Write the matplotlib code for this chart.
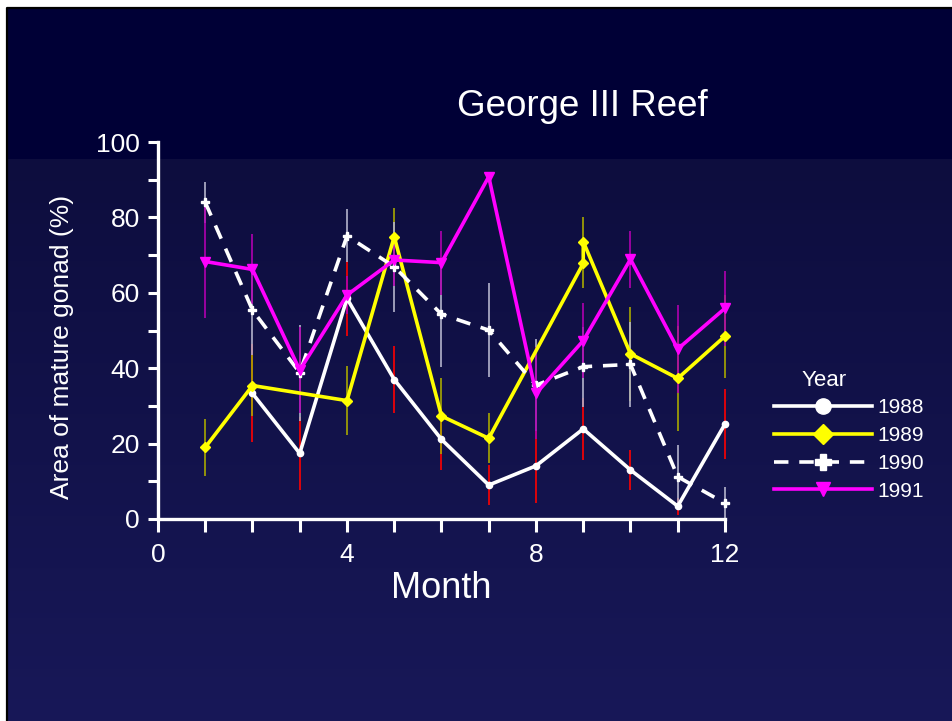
import numpy as np
import matplotlib
matplotlib.use("Agg")
import matplotlib.pyplot as plt
from matplotlib.lines import Line2D
from matplotlib.ticker import MultipleLocator, FixedLocator

plt.rcParams['font.family'] = ['Liberation Sans', 'DejaVu Sans']

# values
months_88 = [2, 3, 4, 5, 6, 7, 8, 9, 10, 11, 12]
area_88 = [33.3, 17.4, 58.5, 37.0, 21.1, 9.0, 14.1, 23.9, 13.0, 3.4, 25.2]
err_88 = [13, 9.7, 10, 8.8, 8.1, 5.3, 9.8, 8.3, 5.2, 2.3, 9.4]

months_89 = [1, 2, 4, 5, 6, 7, 9, 9, 10, 11, 12]
area_89 = [19.0, 35.4, 31.4, 74.9, 27.3, 21.4, 67.8, 73.6, 43.8, 37.3, 48.5]
err_89 = [7.6, 8, 9.2, 7.5, 10, 6.6, 6.5, 6.5, 12.5, 14, 11]

months_90 = [1, 2, 3, 4, 5, 6, 7, 8, 9, 10, 11, 12]
area_90 = [84.0, 55.4, 38.8, 75.1, 66.9, 54.3, 50.1, 35.5, 40.4, 41.0, 11.2, 4.2]
err_90 = [5.5, 12, 12.7, 7, 12, 14, 12.4, 12.2, 10.6, 11.2, 8.4, 4.2]

months_91 = [1, 2, 3, 4, 5, 6, 7, 8, 9, 10, 11, 12]
area_91 = [68.3, 66.2, 39.5, 59.4, 68.7, 68.0, 90.8, 33.3, 47.3, 68.9, 45.1, 55.9]
err_91 = [15, 9.3, 11.5, 5, 7, 8.5, 1, 12.2, 10, 7.5, 11.7, 10]

fig = plt.figure(figsize=(9.53, 7.21), dpi=100, facecolor='white')

# slide background: dark band on top, gentle gradient below
bg = fig.add_axes([7/953, 0, 946/953, 714/721])
bg.set_axis_off()
h = 714
split = 152
top = np.array([0, 0, 54]) / 255
g0 = np.array([13, 13, 62]) / 255
g1 = np.array([24, 24, 88]) / 255
rows = np.zeros((h, 1, 3))
rows[:split, 0] = top
t = np.linspace(0, 1, h - split)[:, None]
rows[split:, 0] = g0 + (g1 - g0) * t
bg.imshow(rows, aspect='auto', extent=[0, 1, 0, 1], interpolation='nearest')
bg.set_xlim(0, 1)
bg.set_ylim(0, 1)
# black edge only on top and left, like the slide
fig.lines.append(Line2D([7.5/953, 7.5/953, 1], [0, 1 - 7.5/721, 1 - 7.5/721],
                        transform=fig.transFigure, color='black', linewidth=1.6))

ax = fig.add_axes([158/953, 1 - 519/721, 567/953, 377/721])
ax.patch.set_visible(False)

series = [
    (months_88, area_88, err_88, 'white', '#ff0000', 'o', '-', 4.5, '1988'),
    (months_89, area_89, err_89, '#ffff00', '#a8a800', 'D', '-', 5, '1989'),
    (months_90, area_90, err_90, 'white', '#b4b4cc', 'P', '--', 6, '1990'),
    (months_91, area_91, err_91, '#ff00ff', '#b000b0', 'v', '-', 7, '1991'),
]
handles = []
for m, a, e, col, ecol, mk, ls, ms, lab in series:
    ax.errorbar(m, a, yerr=e, fmt='none', ecolor=ecol, elinewidth=1.2,
                capsize=0, zorder=2, clip_on=False)
for m, a, e, col, ecol, mk, ls, ms, lab in series:
    ln, = ax.plot(m, a, color=col, linestyle=ls, marker=mk, markersize=ms,
                  linewidth=2.6, dashes=(4, 3) if ls == '--' else (None, None),
                  label=lab, zorder=3, clip_on=False)
    handles.append(ln)

ax.set_xlim(0, 12)
ax.set_ylim(0, 100)
for s in ['top', 'right']:
    ax.spines[s].set_visible(False)
for s in ['left', 'bottom']:
    ax.spines[s].set_color('white')
    ax.spines[s].set_linewidth(2.4)

ax.xaxis.set_major_locator(FixedLocator([0, 4, 8, 12]))
ax.xaxis.set_minor_locator(MultipleLocator(1))
ax.yaxis.set_major_locator(MultipleLocator(20))
ax.yaxis.set_minor_locator(MultipleLocator(10))
ax.tick_params(axis='x', which='both', direction='out', length=9, width=2.2,
               colors='white', labelsize=19, pad=8)
ax.tick_params(axis='y', which='both', direction='out', length=7, width=2.2,
               colors='white', labelsize=19, pad=6)

ax.set_xlabel('Month', color='white', fontsize=26, labelpad=3)
fig.text(62/953, 1 - 347/721, 'Area of mature gonad (%)', color='white', fontsize=19,
         rotation=90, ha='center', va='center')
fig.text(582/953, 1 - 107/721, 'George III Reef', color='white', fontsize=26.5,
         ha='center', va='center')

# legend title sits over the handles, so it is drawn separately
fig.text(824/953, 1 - 380/721, 'Year', color='white', fontsize=16,
         ha='center', va='center')
leg = ax.legend(handles=handles, loc='upper left',
                bbox_to_anchor=(764/953, 1 - 388/721), bbox_transform=fig.transFigure,
                frameon=False, fontsize=15, handlelength=4.7,
                handletextpad=0.25, labelspacing=0.42, borderpad=0)
for txt in leg.get_texts():
    txt.set_color('white')
for lh, size in zip(leg.legend_handles, [11, 10, 11, 10]):
    lh.set_markersize(size)

plt.savefig('out.png', dpi=100, facecolor='white')
